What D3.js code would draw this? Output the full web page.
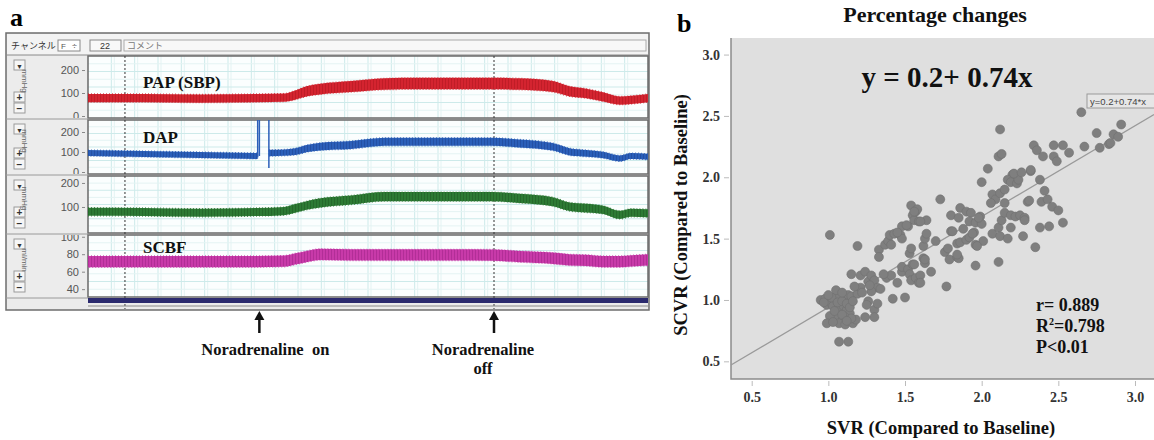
<!DOCTYPE html>
<html><head><meta charset="utf-8">
<script src="https://cdn.jsdelivr.net/npm/d3@7"></script>
<style>body{margin:0;background:#fff;} svg{display:block;}</style>
</head><body>
<svg id="c" width="1154" height="440"></svg>
<script>
// ---------------- Panel a data ----------------
const traceTime = [0,10,20,30,35,37,39,41.5,47,53,59,65.5,72,77,83,86,89,92,95,97,100];
const papMid    = [78,78,76,78,80,91,107,117,128,139,141,141,141,139,128,107,98,83,67,70,78];
const papSpread = [18,18,18,18,18,20,22,23,24,25,25,25,25,25,24,22,21,20,18,18,18];
const dapTime   = [0,10,20,30.3,32.3,35,37,39,41.5,47,53,59,65.5,72,77,83,86,89,92,95,97,100];
const dapMid    = [95,90,85,80,95,97,102,117,127,135,151,151,151,151,143,126,101,93,85,68,80,76];
const dapSpread = [15,15,15,15,16,16,17,18,19,20,20,20,20,20,20,19,18,17,16,15,15,15];
const dapSpikes = [[30.3,75,260],[30.6,80,260],[32.3,20,260]]; // time, low, high
const mapMid    = [80,79,76,79,83,94,106,117,129,143,143,143,143,136,122,101,95,88,67,76,74];
const mapSpread = [17,17,17,17,17,18,18,19,19,19,19,19,19,19,19,18,18,17,17,17,17];
const scbfMid   = [71.5,71.5,71.5,71.5,72,74.6,77.3,79.8,79.2,79.2,79.2,79.2,79,77.3,75.4,73.5,72.9,71.5,71.5,72.3,73.5];
const scbfSpread= [6.5,6.5,6.5,6.5,6.5,6.5,6.5,6.5,6.5,6.5,6.5,6.5,6.5,6.5,6.5,6.5,6.5,6.5,6.5,6.5,6.5];
const rowLabels = ["PAP (SBP)","DAP","","SCBF"];
const rowUnits  = ["mmHg","mmHg","mmHg","ml/min"];
const rowTicks  = [[0,100,200],[0,100,200],[100,200],[40,60,80,100]];
const eventTimes = [30.6, 72.5];
const markerTimes = [6.6, 72.5];
const eventLabels = [["Noradrenaline\u00a0\u00a0on"],["Noradrenaline","off"]];

// ---------------- Panel b data ----------------
const svr = [0.95,0.98,1.00,0.99,1.02,1.04,1.05,1.05,1.03,1.07,1.08,1.10,1.11,1.13,1.15,1.12,1.14,1.11,1.08,1.04,1.01,0.99,1.07,1.11,1.16,1.18,1.07,1.13,1.19,1.21,1.17,1.21,1.15,1.24,1.26,1.28,1.30,1.32,1.28,1.26,1.25,1.30,1.32,1.30,1.24,1.34,1.01,1.19,
 0.97,1.02,1.06,1.09,1.12,1.14,1.16,1.04,1.09,1.15,1.03,1.12,1.22,1.09,1.00,1.27,
 1.38,1.41,1.45,1.42,1.50,1.48,1.48,1.52,1.53,1.55,1.54,1.57,1.59,1.60,1.67,1.53,1.54,1.62,1.63,1.62,1.63,1.64,1.70,1.33,1.33,1.37,1.39,1.41,1.40,1.43,1.47,1.48,1.48,1.52,1.55,1.56,1.59,1.57,1.54,1.64,1.73,1.56,1.60,1.58,1.60,1.51,1.45,1.36,1.63,1.56,
 1.76,1.77,1.78,1.79,1.84,1.85,1.84,1.80,1.80,1.86,1.85,1.84,1.86,1.88,1.90,1.93,1.92,1.96,1.90,1.92,1.95,1.96,1.96,1.99,2.00,2.01,1.97,1.81,1.94,1.98,2.00,2.04,2.07,2.09,2.06,2.12,2.15,2.15,2.07,2.11,2.12,
 2.13,2.17,2.19,2.11,2.15,2.19,2.22,2.25,2.28,2.27,2.28,2.30,2.31,2.35,2.38,2.39,2.43,2.41,2.44,2.46,2.50,2.53,2.38,2.32,
 2.20,2.17,2.19,2.23,2.24,2.21,2.26,2.32,2.11,2.13,2.12,2.34,2.36,2.40,2.47,2.47,2.49,2.53,2.57,2.65,2.67,2.75,2.77,2.83,2.86,2.89,2.91,2.84];
const scvr = [1.00,1.01,0.99,0.96,0.97,1.00,1.03,1.08,0.95,0.95,0.92,0.95,1.03,1.04,1.03,0.92,0.89,0.86,0.84,0.86,0.87,0.81,0.81,0.80,0.81,0.84,0.66,0.66,1.05,1.10,1.11,1.20,1.21,1.23,1.15,1.20,1.16,1.10,1.07,0.99,0.96,0.92,0.97,0.86,0.86,1.09,1.53,1.44,
 0.98,1.02,0.98,0.99,0.97,0.94,0.99,0.91,0.88,0.85,0.82,0.83,1.06,1.06,1.04,1.12,
 1.18,1.20,1.14,1.01,1.02,1.23,1.27,1.25,1.21,1.29,1.16,1.18,1.14,1.20,1.23,1.38,1.42,1.34,1.30,1.44,1.50,1.54,1.48,1.41,1.35,1.45,1.48,1.45,1.53,1.54,1.53,1.50,1.60,1.60,1.69,1.65,1.64,1.72,1.77,1.65,1.82,1.29,1.14,1.74,1.64,1.61,1.55,1.21,1.33,1.72,
 1.39,1.11,1.42,1.33,1.35,1.34,1.37,1.56,1.69,1.75,1.67,1.46,1.47,1.58,1.72,1.71,1.64,1.63,1.49,1.51,1.55,1.45,1.28,1.68,1.62,1.48,1.44,1.56,1.54,1.67,1.96,2.07,1.86,1.82,1.79,1.87,1.90,1.79,1.54,1.59,1.52,
 1.65,1.50,1.59,1.31,1.71,1.69,1.68,1.69,1.67,1.52,1.65,1.80,1.81,1.43,1.59,1.80,1.82,1.89,1.60,1.76,1.73,1.63,1.98,2.05,
 2.02,1.98,1.96,1.95,1.98,2.03,2.04,2.06,2.17,2.19,2.39,2.26,2.22,2.17,2.26,2.17,2.13,2.26,2.20,2.53,2.25,2.36,2.24,2.27,2.35,2.33,2.43,2.28];
const fitIntercept = 0.2, fitSlope = 0.74;
const axisTicks = [0.5,1.0,1.5,2.0,2.5,3.0];
const statLines = ["r= 0.889","R2=0.798","P<0.01"];

const svg = d3.select("#c");
const serif = "'Liberation Serif','Times New Roman',serif";
const sans = "'Liberation Sans',Arial,sans-serif";
const defs = svg.append("defs");

// ================= Panel a =================
const A = {x0:6, x1:649, y0:33, y1:310, plotL:88, plotR:648};
svg.append("text").attr("x",10).attr("y",26).text("a")
  .attr("font-family",serif).attr("font-weight","bold").attr("font-size",26);

svg.append("rect").attr("x",A.x0).attr("y",A.y0).attr("width",A.x1-A.x0).attr("height",A.y1-A.y0)
  .attr("fill","#ebebeb").attr("stroke","#6d6d6d").attr("stroke-width",1.5);
// toolbar
svg.append("rect").attr("x",A.x0+1).attr("y",A.y0+1).attr("width",A.x1-A.x0-2).attr("height",21).attr("fill","#f3f3f3");
svg.append("line").attr("x1",A.x0).attr("x2",A.x1).attr("y1",55).attr("y2",55).attr("stroke","#8a8a8a");
svg.append("text").attr("x",11).attr("y",49).text("チャンネル").attr("font-family","'Noto Sans CJK JP'").attr("font-size",9).attr("fill","#333");
svg.append("rect").attr("x",58).attr("y",40).attr("width",22).attr("height",11).attr("fill","#fff").attr("stroke","#888");
svg.append("text").attr("x",61).attr("y",49).text("F").attr("font-family",sans).attr("font-size",8).attr("fill","#555");
svg.append("text").attr("x",72).attr("y",49).text("÷").attr("font-family",sans).attr("font-size",9).attr("fill","#555");
svg.append("rect").attr("x",90).attr("y",40).attr("width",31).attr("height",11).attr("fill","#f8f8f8").attr("stroke","#888");
svg.append("text").attr("x",105).attr("y",49).text("22").attr("text-anchor","middle").attr("font-family",sans).attr("font-size",9).attr("fill","#333");
svg.append("rect").attr("x",124).attr("y",40).attr("width",522).attr("height",11).attr("fill","#f8f8f8").attr("stroke","#aaa");
svg.append("text").attr("x",127).attr("y",49).text("コメント").attr("font-family","'Noto Sans CJK JP'").attr("font-size",9).attr("fill","#777");

const x = d3.scaleLinear().domain([0,100]).range([A.plotL, A.plotR]);
const rows = [
  {top:56, bot:118, y:d3.scaleLinear().domain([0,261]).range([116,56]), color:"#d42430", dark:"#a8141c"},
  {top:120, bot:174, y:d3.scaleLinear().domain([0,260]).range([172,120]), color:"#2b5fb9", dark:"#183f8a"},
  {top:176, bot:233, y:d3.scaleLinear().domain([0,229]).range([231,176]), color:"#2d7a34", dark:"#1b5520"},
  {top:235, bot:297, y:d3.scaleLinear().domain([31,102]).range([297,235]), color:"#c83aa9", dark:"#962080"}
];
rows.forEach((r,i)=>{
  const pat = defs.append("pattern").attr("id","tex"+i).attr("patternUnits","userSpaceOnUse").attr("width",3).attr("height",7);
  pat.append("rect").attr("width",3).attr("height",7).attr("fill",r.color);
  pat.append("rect").attr("x",1).attr("width",1).attr("height",7).attr("fill",r.dark).attr("opacity",0.45);
  defs.append("clipPath").attr("id","clipP"+i).append("rect").attr("x",A.plotL).attr("y",r.top).attr("width",A.plotR-A.plotL).attr("height",r.bot-r.top);
  defs.append("clipPath").attr("id","clipL"+i).append("rect").attr("x",A.x0).attr("y",r.top).attr("width",A.plotL-A.x0).attr("height",r.bot-r.top);
  svg.append("rect").attr("x",A.plotL).attr("y",r.top).attr("width",A.plotR-A.plotL).attr("height",r.bot-r.top).attr("fill","#fbfefe");
  const g = svg.append("g").attr("clip-path",`url(#clipP${i})`);
  for(let k=1;k<24;k++){
    const gx = A.plotL + k*(A.plotR-A.plotL)/24;
    g.append("line").attr("x1",gx).attr("x2",gx).attr("y1",r.top).attr("y2",r.bot).attr("stroke","#cdeaea").attr("stroke-width",1);
    g.append("line").attr("x1",gx+3).attr("x2",gx+3).attr("y1",r.top).attr("y2",r.bot).attr("stroke","#e4f3f3").attr("stroke-width",1);
  }
  const hN=8;
  for(let k=1;k<hN;k++){
    const gy = r.top + k*(r.bot-r.top)/hN;
    g.append("line").attr("x1",A.plotL).attr("x2",A.plotR).attr("y1",gy).attr("y2",gy).attr("stroke", k%2? "#e4f3f3":"#cdeaea");
  }
  svg.append("rect").attr("x",A.x0+2).attr("y",r.top).attr("width",A.plotL-A.x0-4).attr("height",r.bot-r.top).attr("fill","#ececec");
  const bx=14;
  const bt = r.top+4;
  [["▼",bt],["+",r.bot-26],["−",r.bot-15]].forEach(([s,yy])=>{
    svg.append("rect").attr("x",bx).attr("y",yy).attr("width",11).attr("height",10).attr("fill","#f6f6f6").attr("stroke","#9a9a9a");
    svg.append("text").attr("x",bx+5.5).attr("y",yy+8.5).text(s).attr("text-anchor","middle").attr("font-family",sans).attr("font-size",s==="▼"?7:10).attr("font-weight","bold").attr("fill","#333");
  });
  svg.append("text").attr("transform",`translate(${bx+8},${(bt+10+r.bot-26)/2}) rotate(90)`).attr("text-anchor","middle")
    .text(rowUnits[i]).attr("font-family",sans).attr("font-size",8).attr("fill","#666");
  const outer = svg.append("g").attr("clip-path",`url(#clipL${i})`);
  const ax = outer.append("g").attr("transform",`translate(${A.plotL-3},0)`)
    .call(d3.axisLeft(r.y).tickValues(rowTicks[i]).tickSize(3).tickPadding(3));
  ax.select(".domain").remove();
  ax.selectAll("text").attr("font-family",sans).attr("font-size",11).attr("fill","#555");
  ax.selectAll("line").attr("stroke","#888");
  svg.append("rect").attr("x",A.plotL).attr("y",r.top).attr("width",A.plotR-A.plotL).attr("height",r.bot-r.top).attr("fill","none").attr("stroke","#6a6a6a").attr("stroke-width",1.5);
  svg.append("line").attr("x1",A.x0).attr("x2",A.plotL).attr("y1",r.bot+1).attr("y2",r.bot+1).attr("stroke","#9a9a9a");
});

markerTimes.forEach(t=>{
  svg.append("line").attr("x1",x(t)).attr("x2",x(t)).attr("y1",56).attr("y2",309)
    .attr("stroke","#333").attr("stroke-dasharray","2,2").attr("stroke-width",1);
});

function drawTrace(i, times, mid, spread, idxFilter){
  const r = rows[i];
  const data = times.map((t,k)=>({t, m:mid[k], s:spread[k]}));
  const segs = idxFilter ? idxFilter.map(([a,b])=>data.slice(a,b)) : [data];
  const g = svg.append("g").attr("clip-path",`url(#clipP${i})`);
  segs.forEach(seg=>{
    const area = d3.area().x(d=>x(d.t)).y0(d=>r.y(d.m-d.s)).y1(d=>r.y(d.m+d.s)).curve(d3.curveMonotoneX);
    g.append("path").attr("d",area(seg)).attr("fill",`url(#tex${i})`).attr("stroke",r.color).attr("stroke-width",1.2)
      .attr("stroke-dasharray","1,2").attr("stroke-opacity",0.8);
  });
  return g;
}
drawTrace(0, traceTime, papMid, papSpread);
const gd = drawTrace(1, dapTime, dapMid, dapSpread, [[0,4],[4,dapTime.length]]);
dapSpikes.forEach(([t,lo,hi])=>{
  gd.append("line").attr("x1",x(t)).attr("x2",x(t)).attr("y1",rows[1].y(lo)).attr("y2",rows[1].y(hi)).attr("stroke",rows[1].color).attr("stroke-width",1.5);
});
drawTrace(2, traceTime, mapMid, mapSpread);
drawTrace(3, traceTime, scbfMid, scbfSpread);

const labelY = [88,143,null,253];
rowLabels.forEach((s,i)=>{ if(!s) return;
  svg.append("text").attr("x",143).attr("y",labelY[i]).text(s).attr("font-family",serif).attr("font-weight","bold").attr("font-size",17).attr("fill","#111");
});

svg.append("rect").attr("x",A.plotL).attr("y",298).attr("width",A.plotR-A.plotL).attr("height",5).attr("fill","#2b2a6e");
svg.append("line").attr("x1",A.plotL).attr("x2",A.plotR).attr("y1",306).attr("y2",306).attr("stroke","#8a8a8a");

eventTimes.forEach((t,i)=>{
  const ex = x(t);
  svg.append("line").attr("x1",ex).attr("x2",ex).attr("y1",318).attr("y2",333).attr("stroke","#111").attr("stroke-width",2.5);
  svg.append("path").attr("d",`M${ex},311 L${ex-5},320 L${ex+5},320 Z`).attr("fill","#111");
  eventLabels[i].forEach((s,k)=>{
    svg.append("text").attr("x", i===0? ex+6 : ex-11).attr("y",355+k*19).text(s).attr("text-anchor","middle")
      .attr("font-family",serif).attr("font-weight","bold").attr("font-size",16.5).attr("fill","#111");
  });
});

// ================= Panel b =================
const B = {l:731, r:1154, t:38, b:379};
const xs = d3.scaleLinear().domain([0.365, 3.124]).range([B.l, B.r]);
const ys = d3.scaleLinear().domain([0.356, 3.135]).range([B.b, B.t]);
svg.append("text").attr("x",677).attr("y",32).text("b").attr("font-family",serif).attr("font-weight","bold").attr("font-size",26);
svg.append("text").attr("x",935).attr("y",22).text("Percentage changes").attr("text-anchor","middle")
  .attr("font-family",serif).attr("font-weight","bold").attr("font-size",22).attr("fill","#111");
svg.append("rect").attr("x",B.l).attr("y",B.t).attr("width",B.r-B.l).attr("height",B.b-B.t).attr("fill","#dfdfdf");
svg.append("path").attr("d",`M${B.l},${B.t} V${B.b} H${B.r}`).attr("fill","none").attr("stroke","#8c8c8c").attr("stroke-width",1.5);

const yAx = svg.append("g").attr("transform",`translate(${B.l-2},0)`).call(d3.axisLeft(ys).tickValues(axisTicks).tickFormat(d3.format(".1f")).tickSize(5).tickPadding(4));
const xAx = svg.append("g").attr("transform",`translate(0,${B.b+2})`).call(d3.axisBottom(xs).tickValues(axisTicks).tickFormat(d3.format(".1f")).tickSize(5).tickPadding(6));
[yAx,xAx].forEach(a=>{
  a.select(".domain").remove();
  a.selectAll("line").attr("stroke","#bbb");
  a.selectAll("text").attr("font-family",serif).attr("font-weight","bold").attr("font-size",14).attr("fill","#333");
});
svg.append("text").attr("x",941).attr("y",434).text("SVR (Compared to Baseline)").attr("text-anchor","middle")
  .attr("font-family",serif).attr("font-weight","bold").attr("font-size",18.5).attr("fill","#111");
svg.append("text").attr("transform","translate(687,215) rotate(-90)").text("SCVR (Compared to Baseline)").attr("text-anchor","middle")
  .attr("font-family",serif).attr("font-weight","bold").attr("font-size",18.5).attr("fill","#111");

const xd = xs.domain();
svg.append("line").attr("x1",xs(xd[0])).attr("y1",ys(fitIntercept+fitSlope*xd[0]))
  .attr("x2",xs(xd[1])).attr("y2",ys(fitIntercept+fitSlope*xd[1])).attr("stroke","#9a9a9a").attr("stroke-width",1.3);

svg.append("g").selectAll("circle").data(svr.map((v,i)=>[v,scvr[i]])).join("circle")
  .attr("cx",d=>xs(d[0])).attr("cy",d=>ys(d[1])).attr("r",4.5)
  .attr("fill","#7f7f7f").attr("stroke","#707070").attr("stroke-width",0.6);

svg.append("rect").attr("x",1087).attr("y",94).attr("width",70).attr("height",14).attr("fill","#e6e6e6").attr("stroke","#9a9a9a");
svg.append("text").attr("x",1090).attr("y",105).text(`y=${fitIntercept}+${fitSlope}*x`).attr("font-family",sans).attr("font-size",9.5).attr("fill","#444");

svg.append("text").attr("x",947).attr("y",87).text(`y = ${fitIntercept}+ ${fitSlope}x`).attr("text-anchor","middle")
  .attr("font-family",serif).attr("font-weight","bold").attr("font-size",29).attr("fill","#111");

const st = svg.append("g").attr("font-family",serif).attr("font-weight","bold").attr("font-size",18).attr("fill","#111");
st.append("text").attr("x",1036).attr("y",311).text(statLines[0]);
const t2 = st.append("text").attr("x",1036).attr("y",332);
t2.append("tspan").text("R");
t2.append("tspan").text("2").attr("font-size",10).attr("dy",-7);
t2.append("tspan").text("=0.798").attr("dy",7);
st.append("text").attr("x",1036).attr("y",353).text(statLines[2]);
</script>
</body></html>
